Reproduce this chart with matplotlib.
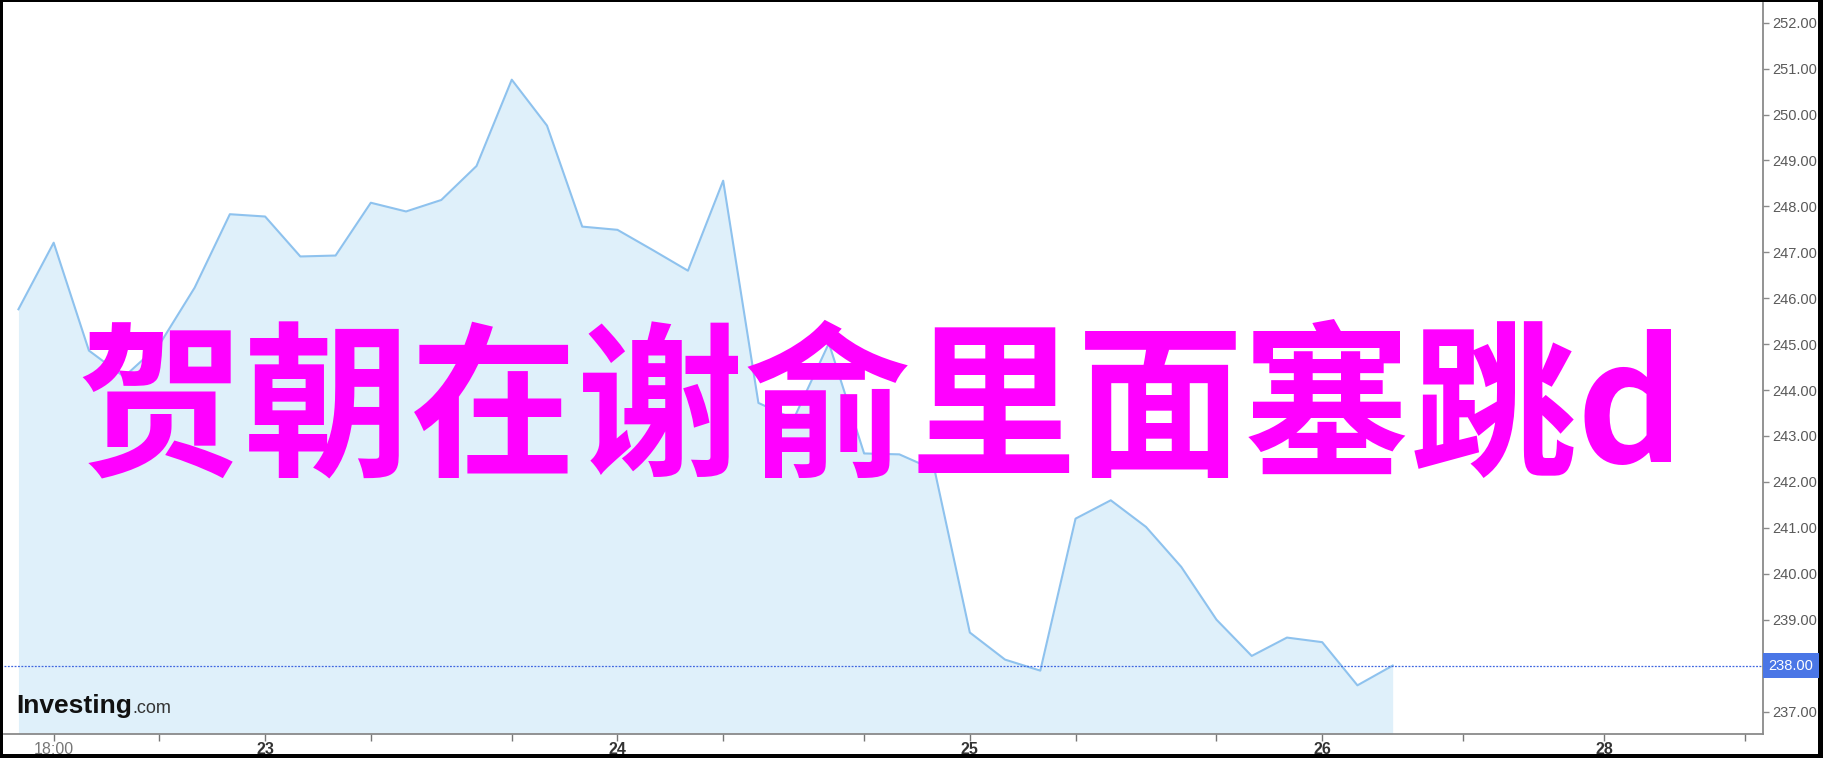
import numpy as np
import matplotlib.pyplot as plt
from matplotlib.patches import Rectangle
from matplotlib.transforms import blended_transform_factory

plt.rcParams['font.family'] = ['Liberation Sans', 'Noto Sans CJK SC', 'DejaVu Sans']

# price series, one point per bar
prices = [245.76, 247.21, 244.86, 244.29, 244.99, 246.23, 247.83, 247.78, 246.91, 246.93,
          248.08, 247.89, 248.14, 248.88, 250.76, 249.76, 247.56, 247.49, 247.05, 246.60,
          248.56, 243.72, 243.37, 245.02, 242.62, 242.60, 242.26, 238.72, 238.13, 237.89,
          241.20, 241.60, 241.02, 240.15, 239.00, 238.21, 238.61, 238.51, 237.57, 238.00]
last_price = 238.00

tick_pos = [1, 4, 7, 10, 14, 17, 20, 24, 27, 30, 34, 37, 41, 45, 49]
tick_text = ['18:00', '', '23', '', '', '24', '', '', '25', '', '', '26', '', '28', '']
y_ticks = [v for v in range(237, 253) if v != 238]
overlay = '贺朝在谢俞里面塞跳d'

W, H = 1824, 758
fig = plt.figure(figsize=(W / 100, H / 100), dpi=100, facecolor='black')
fig.patches.append(Rectangle((3 / W, 4 / H), (1818 - 3) / W, (758 - 4 - 2) / H,
                             transform=fig.transFigure, facecolor='white',
                             edgecolor='none', zorder=-1))

ax = fig.add_axes([4 / W, (H - 734) / H, (1763 - 4) / W, (734 - 3) / H])
ax.set_facecolor('none')
ymin, ymax = 236.51, 252.43
x = np.arange(len(prices))
ax.fill_between(x, prices, ymin, color='#dff0fa', lw=0)
ax.plot(x, prices, color='#8ec2ee', lw=1.5)
ax.axhline(last_price, color='#3f66e0', lw=0.9, ls=(0, (1.5, 1.2)))
ax.set_xlim(-0.41, 49.51)
ax.set_ylim(ymin, ymax)

for s in ['left', 'top']:
    ax.spines[s].set_visible(False)
for s in ['right', 'bottom']:
    ax.spines[s].set_color('#8a8a8a')
    ax.spines[s].set_linewidth(1.3)

ax.yaxis.tick_right()
ax.set_yticks(y_ticks, [f'{v:.2f}' for v in y_ticks])
ax.tick_params(axis='y', colors='#8a8a8a', labelcolor='#5a5a5a', length=4, width=1,
               labelsize=10.5, pad=3)
ax.set_xticks(tick_pos, tick_text)
ax.tick_params(axis='x', colors='#777777', length=5, width=1, labelsize=11.5, pad=1)
for lbl in ax.get_xticklabels():
    if lbl.get_text() == '18:00':
        lbl.set_color('#777777')
    else:
        lbl.set_color('#333333')
        lbl.set_fontweight('bold')

tr = blended_transform_factory(ax.transAxes, ax.transData)
ax.annotate(f'{last_price:.2f}', xy=(1, last_price), xycoords=tr,
            xytext=(4, 0), textcoords='offset points', ha='left', va='center',
            color='white', fontsize=10.5, annotation_clip=False,
            bbox=dict(boxstyle='square,pad=0.35', fc='#4a76e6', ec='none'))

fig.text(881 / W, 1 - 413 / H, overlay, color='#ff00ff', fontsize=120,
         fontweight='bold', family=['Noto Sans CJK SC', 'DejaVu Sans'],
         ha='center', va='center')

# logo
t1 = fig.text(16 / W, 1 - 713 / H, 'Investing', fontsize=19, fontweight='bold',
              color='#111111', ha='left', va='baseline')
fig.canvas.draw()
bb = t1.get_window_extent()
fig.text(bb.x1 / W + 1 / W, 1 - 713 / H, '.com', fontsize=13, color='#333333',
         ha='left', va='baseline')

fig.savefig('out.png', dpi=100, facecolor='black')
